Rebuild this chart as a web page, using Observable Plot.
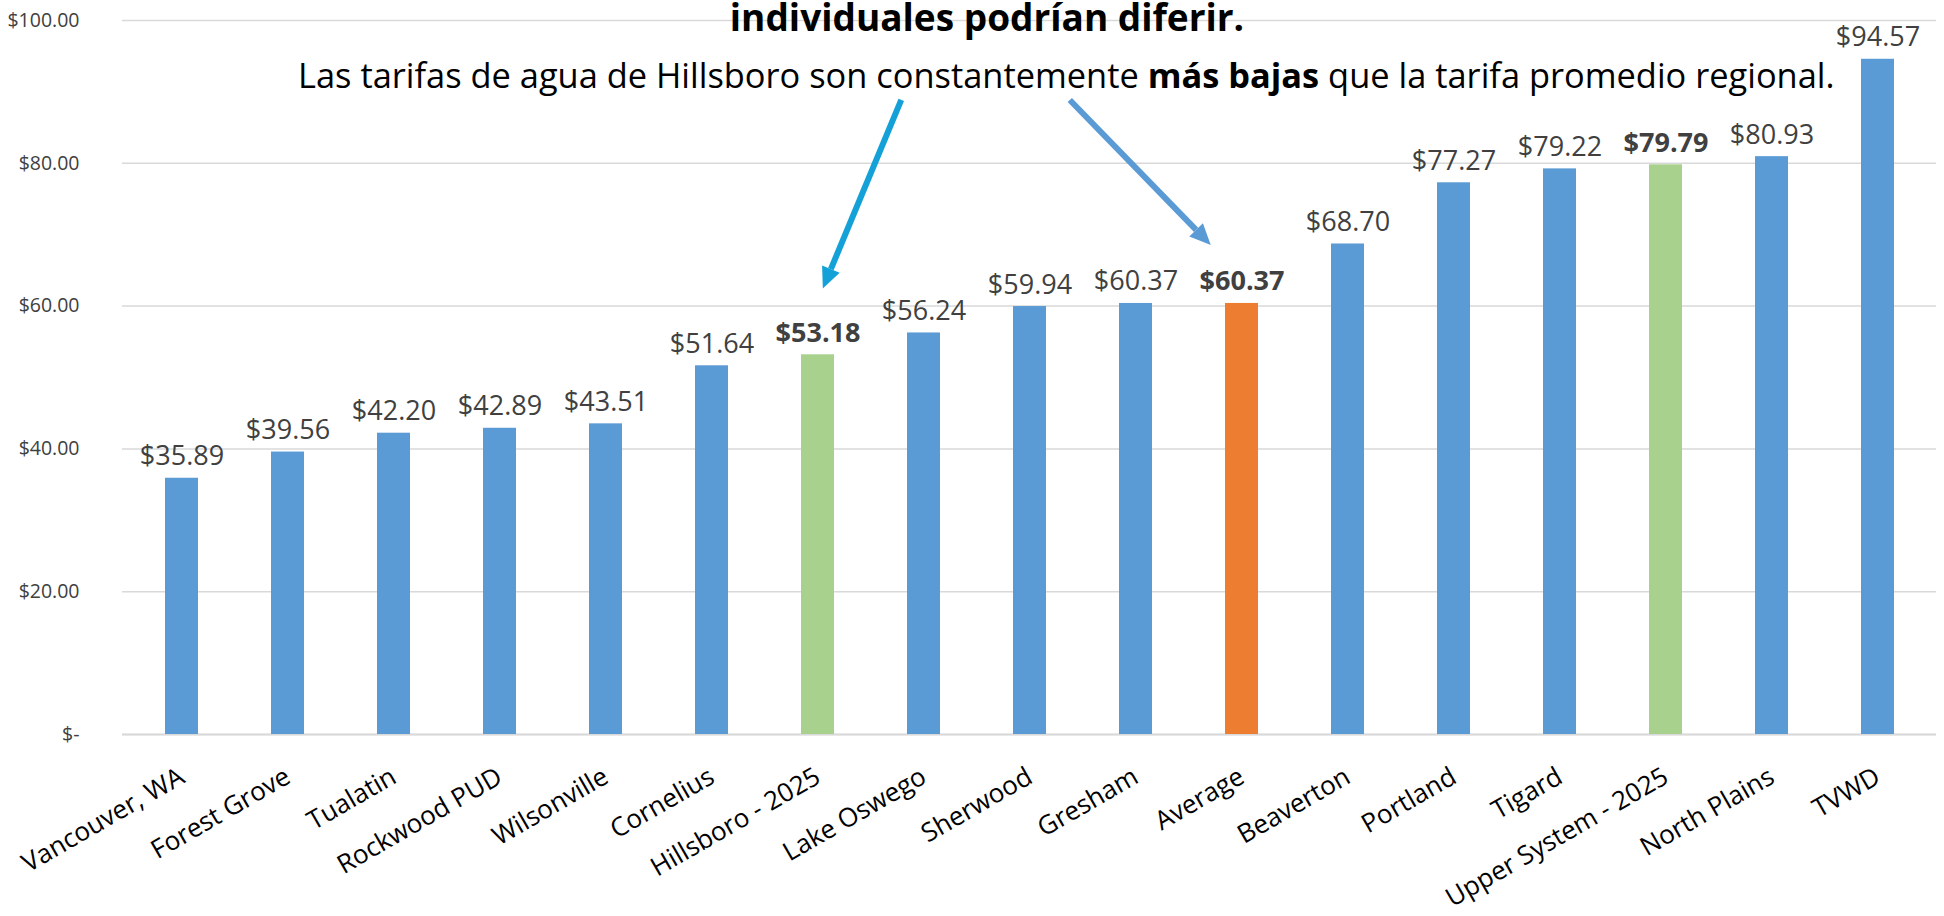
<!DOCTYPE html>
<html>
<head>
<meta charset="utf-8">
<script src="https://cdn.jsdelivr.net/npm/d3@7"></script>
<script src="https://cdn.jsdelivr.net/npm/@observablehq/plot@0.6"></script>
<style>
  html, body { margin: 0; padding: 0; background: #ffffff; overflow: hidden; }
  #chart { position: relative; width: 1944px; height: 916px; }
  #chart svg text { white-space: pre; }
</style>
</head>
<body>
<div id="chart"></div>
<script>
// ---- data ----
const categories = [
  "Vancouver, WA", "Forest Grove", "Tualatin", "Rockwood PUD", "Wilsonville",
  "Cornelius", "Hillsboro - 2025", "Lake Oswego", "Sherwood", "Gresham",
  "Average", "Beaverton", "Portland", "Tigard", "Upper System - 2025",
  "North Plains", "TVWD"
];
const rates = [
  35.89, 39.56, 42.20, 42.89, 43.51,
  51.64, 53.18, 56.24, 59.94, 60.37,
  60.37, 68.70, 77.27, 79.22, 79.79,
  80.93, 94.57
];
const kinds = [
  "other", "other", "other", "other", "other",
  "other", "hillsboro", "other", "other", "other",
  "average", "other", "other", "other", "hillsboro",
  "other", "other"
];
const yTicks = [0, 20, 40, 60, 80, 100];
const titleText = "individuales podrían diferir.";
const subtitleParts = [
  ["Las tarifas de agua de Hillsboro son constantemente ", false],
  ["más bajas", true],
  [" que la tarifa promedio regional.", false]
];
// arrows: from a point near the subtitle down to a bar's label
const arrowNotes = [
  {from: "Hillsboro - 2025", fromValue: 88.8, to: "Hillsboro - 2025", toValue: 62.4},
  {from: "Average", fromValue: 88.8, to: "Average", toValue: 68.5}
];

// ---- styles ----
const arrowStyles = [
  {fromShift: 0.79, toShift: 0.05, color: "#13a1d8"},
  {fromShift: -1.62, toShift: -0.29, color: "#5b9bd5"}
];
const kindColors = {domain: ["other", "hillsboro", "average"], range: ["#5b9bd5", "#a9d18e", "#ed7d31"]};

const rows = categories.map((name, i) => ({name, rate: rates[i], kind: kinds[i]}));
const fmt = v => "$" + v.toFixed(2);

function arrowMark(note, style) {
  return Plot.arrow([note], {
    x1: "from", y1: "fromValue", x2: "to", y2: "toValue",
    render(index, scales, values, dims) {
      const {x, y} = scales;
      const bw = typeof x.bandwidth === "function" ? x.bandwidth() : (x.bandwidth || 0);
      const st = typeof x.step === "function" ? x.step()
        : (dims.width - dims.marginLeft - dims.marginRight) / categories.length;
      const cx = c => x(c) + bw / 2;
      const x1 = cx(note.from) + style.fromShift * st, y1 = y(note.fromValue);
      const x2 = cx(note.to) + style.toShift * st, y2 = y(note.toValue);
      const ang = Math.atan2(y2 - y1, x2 - x1);
      const headLen = 21, headHalf = 9.5;
      const bx = x2 - headLen * Math.cos(ang), by = y2 - headLen * Math.sin(ang);
      const px = -Math.sin(ang) * headHalf, py = Math.cos(ang) * headHalf;
      const g = d3.create("svg:g");
      g.append("line")
        .attr("x1", x1).attr("y1", y1).attr("x2", bx).attr("y2", by)
        .attr("stroke", style.color).attr("stroke-width", 6);
      g.append("path")
        .attr("d", `M${x2},${y2}L${bx + px},${by + py}L${bx - px},${by - py}Z`)
        .attr("fill", style.color);
      return g.node();
    }
  });
}

const plot = Plot.plot({
  width: 1944,
  height: 916,
  marginTop: 20,
  marginBottom: 182,
  marginLeft: 122,
  marginRight: 8,
  style: {fontFamily: "'Open Sans', sans-serif", background: "#ffffff"},
  x: {domain: categories, paddingInner: 0.69, paddingOuter: 0.345, label: null},
  y: {domain: [0, 100], label: null},
  color: {type: "ordinal", ...kindColors},
  marks: [
    Plot.gridY(yTicks, {stroke: "#d9d9d9", strokeOpacity: 1, strokeWidth: 1.5}),
    Plot.ruleY([0], {stroke: "#d9d9d9", strokeWidth: 2}),
    Plot.barY(rows, {x: "name", y: "rate", fill: "kind"}),
    Plot.text(rows, {
      filter: d => d.kind === "other",
      x: "name", y: "rate", text: d => fmt(d.rate),
      lineAnchor: "bottom", dy: -13, fontSize: 27, fill: "#404040"
    }),
    Plot.text(rows, {
      filter: d => d.kind !== "other",
      x: "name", y: "rate", text: d => fmt(d.rate),
      lineAnchor: "bottom", dy: -13, fontSize: 27, fontWeight: "bold", fill: "#404040"
    }),
    Plot.axisY(yTicks, {
      tickSize: 0, tickPadding: 43, fontSize: 19.5, color: "#404040",
      tickFormat: d => d === 0 ? "$-" : fmt(d), label: null
    }),
    Plot.axisX({
      tickSize: 0, tickPadding: 40, tickRotate: -30, fontSize: 26, color: "#000000", label: null
    }),
    ...arrowNotes.map((n, k) => arrowMark(n, arrowStyles[k]))
  ]
});

const svg = d3.select(plot);
svg.append("text")
  .attr("x", 987).attr("y", 31)
  .attr("text-anchor", "middle")
  .attr("font-family", "'Open Sans', sans-serif")
  .attr("font-weight", "bold").attr("font-size", 37).attr("fill", "#000000")
  .text(titleText);
const sub = svg.append("text")
  .attr("x", 298).attr("y", 88)
  .attr("text-anchor", "start")
  .attr("font-family", "'Open Sans', sans-serif")
  .attr("font-size", 34.4).attr("fill", "#000000");
subtitleParts.forEach(([t, b]) => sub.append("tspan").attr("font-weight", b ? "bold" : null).text(t));

document.getElementById("chart").appendChild(plot);
</script>
</body>
</html>
